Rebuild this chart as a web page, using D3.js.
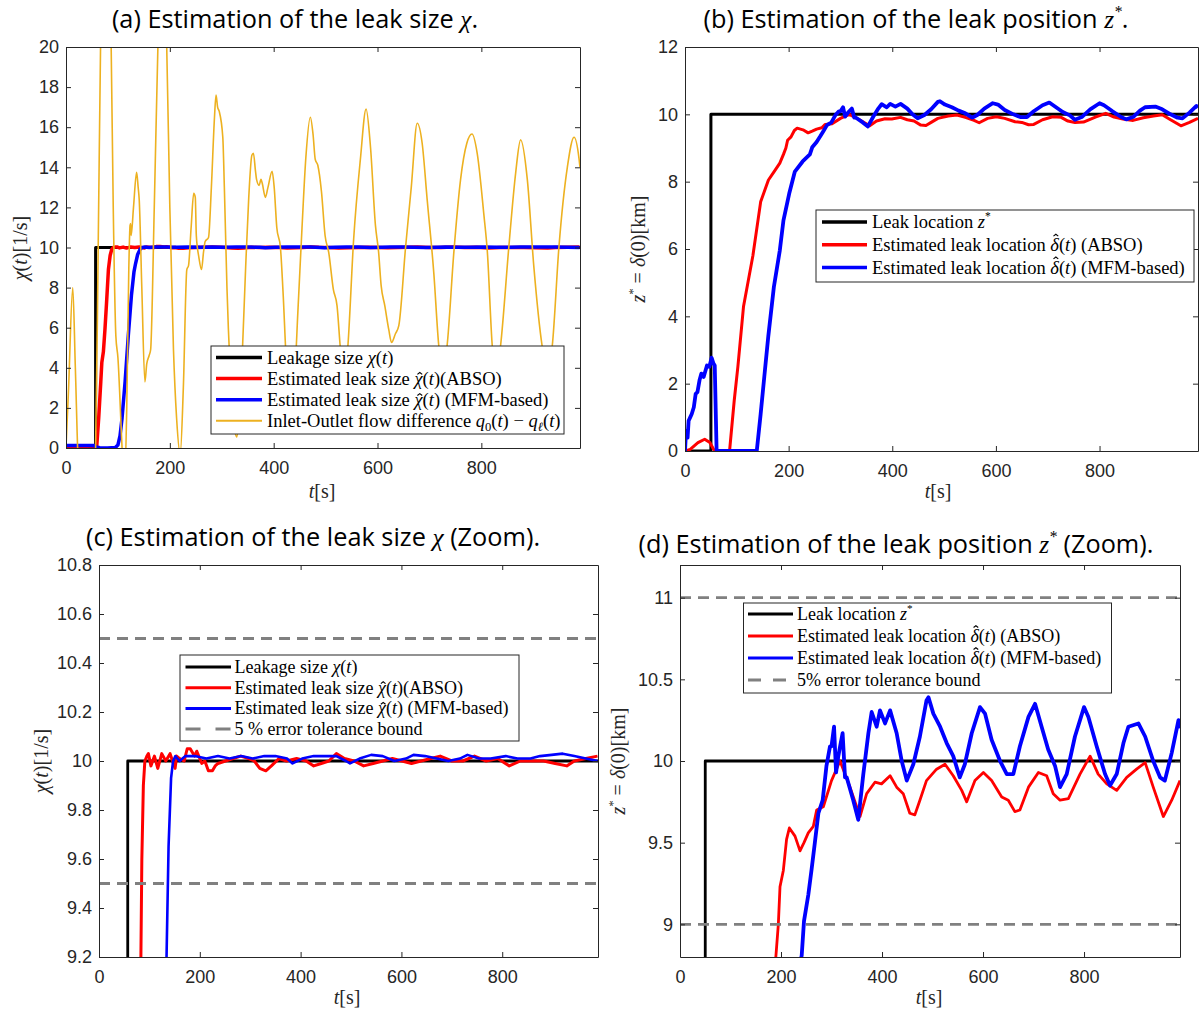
<!DOCTYPE html>
<html>
<head>
<meta charset="utf-8">
<script src="https://cdn.jsdelivr.net/npm/d3@7"></script>
<style>
  body { margin: 0; background: #fff; }
  svg { display: block; }
</style>
</head>
<body>
<svg id="fig" width="1200" height="1012"></svg>
<script>
// ---------- data ----------
// time axis ticks [s]
const timeTicks = [0, 200, 400, 600, 800];
const timeDomain = [0, 990];

// true leak size chi(t) [1/s]
const leakSize = [[0, 0], [57, 0], [57, 10], [990, 10]];
// true leak position z* [km]
const leakPos = [[0, 0], [50, 0], [50, 10], [990, 10]];

// estimated leak size, ABSO observer
const chiABSO = [[0,0],[20,-0.02],[40,-0.04],[57,-0.05],[59,0],[63,1.5],[67,3.3],[69,4.26],[72,4.8],[75,5.9],[78,7.2],
  [81.7,8.9],[85,9.6],[88,9.9],[91,10.0],[95,10.02],[98,10.03],[103,9.98],[110,10.02],[116.6,9.97],[124.5,10.03],
  [132.5,10.0],[141,10.03],[151,9.97],[154,10.02],[160,10.01],[169,10.0],[175,10.05],[181,10.05],[189.5,10.02],
  [194,10.04],[204,9.99],[210,10.0],[217,9.96],[225,9.96],[230.5,9.98],[236,9.99],[251,10.0],[266,10.01],[281,10.02],
  [297,10.01],[308,10.0],[319,9.97],[331,9.96],[342,9.98],[357,10.01],[372,10.0],[392,10.01],[411,10.0],[426,9.98],
  [441,9.99],[456,10.0],[471,10.03],[487,10.01],[506,10.0],[525,9.98],[544,9.99],[563,10.0],[582,10.01],[601,10.0],
  [620,9.99],[639,10.0],[658,10.01],[677,10.02],[700,10.0],[722,10.0],[745,10.02],[768,10.0],[791,10.01],[814,9.98],
  [836,10.0],[859,10.0],[882,10.0],[905,9.99],[928,9.98],[943,10.0],[966,10.01],[989,10.02]];

// estimated leak size, MFM-based
const chiMFM = [[0,0.12],[55,0.12],[58,0.05],[65,0.01],[80,0],[95,0.02],[100,0.15],[104,0.6],[108,1.5],[113.8,3.3],
  [120,5.6],[126,7.6],[131,8.8],[134,9.2],[138,9.65],[143,9.93],[147,10.0],[151.5,10.02],[160,10.0],[171,10.02],
  [190,10.02],[213,10.01],[236,10.02],[259,10.01],[282,10.02],[305,10.01],[328,10.02],[350,10.02],[373,10.01],
  [384,9.99],[403,10.01],[426,10.02],[449,10.02],[471,10.02],[490,10.0],[498,9.99],[517,10.01],[540,10.025],
  [563,10.02],[586,10.0],[609,10.01],[624,10.025],[647,10.02],[670,10.01],[693,10.0],[716,10.01],[731,10.025],
  [754,10.01],[777,10.01],[807,10.02],[830,10.01],[856,10.01],[875,10.02],[898,10.025],[920,10.03],[943,10.02],
  [966,10.01],[989,10.0]];

// inlet-outlet flow difference q0(t) - ql(t)
const flowDiff = [[0,0],[5,3],[13,8],[18,4],[24,-1],[35,-3],[50,-2],[57,0],[62,10],[67,21],[75,28],[82,26],[87,20],
  [91,12],[96,5.6],[100,4.5],[108,0],[112,-2],[117,2],[121,9],[123.4,11.1],[124.5,11.2],[125.5,10.6],[130,12],
  [136,13.75],[139,13],[141,12.4],[146,8],[152,3.3],[155.5,4.2],[160,4.6],[163,4.9],[170,12],[177,20],[183,25],
  [189,24],[194,20],[200,12],[207,4.9],[213,1.5],[220,-0.3],[226,3],[232.7,8.9],[236,9.1],[241,11],[246,12.7],
  [249,12.5],[251,10.6],[256,9.5],[261,8.9],[265,9.8],[268,10.3],[274.5,10.5],[280,13],[286,16.5],[289,17.6],
  [292,17.0],[295,16.8],[302,15.5],[305,13],[310,8],[316,4],[322,1.5],[329,0.55],[333,1.5],[340,5],[346,9],
  [352,12.5],[358,14.6],[361,14.7],[365,13.8],[367,13.4],[372,13.1],[375.6,13.4],[378,13.2],[384,12.5],[389,13],
  [397,13.8],[401,13],[406,11],[413,10],[418,7.8],[425,4],[432,2.5],[440,3.5],[447,7],[454.6,11],[462,14.5],
  [470.6,16.5],[476,15.6],[480,14.4],[485,14.1],[492,12.8],[499,10.6],[506,9.76],[515,7.9],[522,7.1],[528,5.1],
  [535,3.0],[543,5.1],[554,10.4],[567,14.4],[578,16.9],[586.5,15],[596,11.1],[602,9.8],[607,8.1],[614,7.1],
  [621.7,5.9],[627,5.26],[634.5,5.7],[641,6.1],[654,10],[665,13],[676.5,16.2],[686,15.2],[695.6,12.4],[708.5,8.7],
  [718,5.1],[726,3.8],[734,5.1],[747,9.76],[760,13.4],[772,15.2],[782,15.66],[792,14.7],[805,11.6],[811.5,9.8],
  [821,5.1],[829,3.6],[837,5.1],[853,10.05],[866,13.7],[875.6,15.37],[888.5,13.4],[901,9.07],[917,5.1],[927,3.8],
  [936.6,5.1],[949.5,10.05],[965.6,14.0],[978.5,15.5],[988,14.46],[990,14.0]];

// estimated leak position, ABSO observer
const zABSO = [[0,0],[10,0.05],[25,0.25],[38,0.35],[48,0.25],[55,0.05],[58,0],[86,0],[95,1.5],[102,2.5],[113,4.3],
  [131,5.8],[146,7.4],[161,8.05],[172,8.3],[183,8.55],[190,8.81],[194.7,9.0],[198,9.23],[204.6,9.33],[211,9.52],
  [216.5,9.59],[227.7,9.54],[237.6,9.45],[245.5,9.5],[254,9.56],[264,9.6],[270.6,9.7],[283.8,9.72],[300,9.88],
  [316.8,10.0],[326.7,9.92],[336.6,9.84],[356.4,9.66],[369.6,9.8],[386,9.87],[399,9.86],[416,9.91],[429,9.84],
  [442,9.8],[455,9.68],[465,9.67],[475,9.76],[488,9.88],[508,9.95],[524.8,9.98],[541,9.91],[557.8,9.82],[567.7,9.75],
  [584,9.88],[600.7,9.93],[617,9.88],[637,9.78],[650,9.76],[663,9.69],[673,9.7],[690,9.84],[709.6,9.93],[726,9.91],
  [739,9.8],[752.5,9.76],[769,9.77],[792,9.92],[812,10.03],[828,9.92],[845,9.86],[864.7,9.82],[884.5,9.9],
  [904,9.95],[921,9.99],[937,9.84],[957,9.66],[973.6,9.76],[990,9.88]];

// estimated leak position, MFM-based
const zMFM = [[0,0],[2,0.6],[5,0.4],[7,0.9],[10,1.0],[13,1.1],[17,1.3],[20.6,1.7],[24,1.75],[28,2.1],[31.6,2.3],
  [36,2.2],[42.4,2.54],[47,2.5],[51.4,2.77],[55,2.6],[57.4,2.54],[61,0],[138.5,0],[146,1.1],[153,2.2],[160.7,3.4],
  [171.5,4.87],[183,5.96],[190,6.85],[201,7.64],[212,8.3],[227,8.6],[241,8.81],[245.5,9.02],[254,9.18],[260.7,9.34],
  [267,9.5],[274,9.68],[282.5,9.76],[290,9.97],[297,10.09],[300,10.09],[305,10.21],[309,9.93],[313.5,10.03],
  [317,10.09],[322,10.17],[326.7,9.9],[330,9.9],[343,9.76],[353,9.64],[363,9.92],[373,10.17],[379.5,10.3],
  [389.4,10.21],[396,10.31],[406,10.23],[416,10.31],[429,10.17],[439,10.0],[449,9.88],[462,9.98],[475,10.15],
  [488,10.37],[492,10.39],[501.6,10.29],[515,10.21],[528,10.11],[541,10.03],[554,9.9],[564,9.98],[577.6,10.17],
  [594,10.33],[604,10.29],[617,10.13],[633.7,10.0],[647,9.92],[660,9.92],[673,10.09],[690,10.27],[703,10.35],
  [716,10.21],[729,10.07],[742.6,9.97],[752.5,9.84],[765.7,9.92],[782,10.15],[800,10.33],[808.6,10.27],[825,10.09],
  [841.6,9.92],[851.5,9.85],[864.7,9.92],[878,10.11],[887.8,10.21],[907.6,10.23],[921,10.15],[937,10.0],[950.5,9.9],
  [960,9.88],[973.6,10.05],[987,10.25],[990,10.2]];

// 5 % tolerance bounds
const tolChi = [9.5, 10.5];
const tolZ = [9, 11];

// y tick values
const ticksA = [0, 2, 4, 6, 8, 10, 12, 14, 16, 18, 20];
const ticksB = [0, 2, 4, 6, 8, 10, 12];
const ticksC = [9.2, 9.4, 9.6, 9.8, 10, 10.2, 10.4, 10.6, 10.8];
const ticksD = [9, 9.5, 10, 10.5, 11];

// text: parts are [string, style]; 'i' italic, 'm' serif italic math in sans text,
// '^' superscript, '_' subscript, 'h' hat accent (low glyph), 'H' hat accent (tall glyph)
const titleA = [["(a) Estimation of the leak size "], ["χ", "m"], ["."]];
const titleB = [["(b) Estimation of the leak position "], ["z", "m"], ["*", "m^"], ["."]];
const titleC = [["(c) Estimation of the leak size "], ["χ", "m"], [" (Zoom)."]];
const titleD = [["(d) Estimation of the leak position "], ["z", "m"], ["*", "m^"], [" (Zoom)."]];
const labelChi = [["χ", "i"], ["("], ["t", "i"], [")[1/s]"]];
const labelZ = [["z", "i"], ["*", "^"], [" = ", ""], ["δ", "i"], ["(0)[km]"]];
const labelT = [["t", "i"], ["[s]"]];

const lgLeak = [["Leakage size "], ["χ", "i"], ["("], ["t", "i"], [")"]];
const lgChiABSO = [["Estimated leak size "], ["χ", "ih"], ["("], ["t", "i"], [")(ABSO)"]];
const lgChiMFM = [["Estimated leak size "], ["χ", "ih"], ["("], ["t", "i"], [") (MFM-based)"]];
const lgFlow = [["Inlet-Outlet flow difference "], ["q", "i"], ["0", "_"], ["("], ["t", "i"], [") − "], ["q", "i"], ["ℓ", "_i"], ["("], ["t", "i"], [")"]];
const lgPos = [["Leak location "], ["z", "i"], ["*", "^"]];
const lgZABSO = [["Estimated leak location "], ["δ", "iH"], ["("], ["t", "i"], [") (ABSO)"]];
const lgZMFM = [["Estimated leak location "], ["δ", "iH"], ["("], ["t", "i"], [") (MFM-based)"]];
const lgTolC = [["5 % error tolerance bound"]];
const lgTolD = [["5% error tolerance bound"]];

// ---------- styling ----------
const SERIF = "'Liberation Serif', 'DejaVu Serif', serif";
const SANS = "'Liberation Sans', Arial, sans-serif";
const TITLE = "'Open Sans', Lato, sans-serif";
const AX = "#262626";
const C_BLACK = "#000000", C_RED = "#ff0000", C_BLUE = "#0000ff", C_YEL = "#EDB120", C_GRAY = "#808080";

const svg = d3.select("#fig");
const defs = svg.append("defs");

// writes mixed upright/italic/sub/superscript runs into a text element
function rich(textSel, parts, size) {
  let shift = 0, idx = 0;
  const hats = [];
  parts.forEach(p => {
    const s = p[0], st = p[1] || "";
    const ts = textSel.append("tspan").text(s);
    let target = 0;
    if (st.includes("m")) ts.attr("font-family", SERIF);
    if (st.includes("i") || st.includes("m")) ts.attr("font-style", "italic");
    if (st.includes("^")) { target = -0.42 * size; ts.attr("font-size", size * 0.62); }
    if (st.includes("_")) { target = 0.22 * size; ts.attr("font-size", size * 0.68); }
    if (target !== shift) { ts.attr("dy", target - shift); shift = target; }
    if (st.includes("h") || st.includes("H")) hats.push({ idx, tall: st.includes("H") });
    idx += s.length;
  });
  // circumflex accents drawn as small strokes centred over their base glyph
  const node = textSel.node();
  const baseY = +textSel.attr("y");
  hats.forEach(h => {
    const e = node.getExtentOfChar(h.idx);
    const cx = e.x + e.width / 2 + size * 0.07;
    const top = baseY - (h.tall ? 0.9 : 0.66) * size;
    const hw = 0.13 * size, hh = 0.1 * size;
    d3.select(node.parentNode).append("path")
      .attr("d", `M${cx - hw},${top + hh}L${cx},${top}L${cx + hw},${top + hh}`)
      .attr("fill", "none").attr("stroke", textSel.attr("fill")).attr("stroke-width", 0.06 * size)
      .attr("stroke-linejoin", "miter");
  });
  return textSel;
}

function panel(cfg) {
  const x = d3.scaleLinear().domain(timeDomain).range([cfg.x0, cfg.x1]);
  const y = d3.scaleLinear().domain(cfg.yDomain).range([cfg.y1, cfg.y0]);
  const clipId = "clip-" + cfg.key;
  defs.append("clipPath").attr("id", clipId).append("rect")
    .attr("x", cfg.x0).attr("y", cfg.y0).attr("width", cfg.x1 - cfg.x0).attr("height", cfg.y1 - cfg.y0);

  svg.append("rect").attr("x", cfg.x0).attr("y", cfg.y0)
    .attr("width", cfg.x1 - cfg.x0).attr("height", cfg.y1 - cfg.y0).attr("fill", "#fff");

  const plot = svg.append("g").attr("clip-path", `url(#${clipId})`);

  cfg.series.forEach(s => {
    if (s.hline !== undefined) {
      plot.append("line").attr("x1", cfg.x0).attr("x2", cfg.x1)
        .attr("y1", y(s.hline)).attr("y2", y(s.hline))
        .attr("stroke", s.color).attr("stroke-width", s.w).attr("stroke-dasharray", s.dash);
    } else {
      const line = d3.line().x(d => x(d[0])).y(d => y(d[1])).curve(s.smooth ? d3.curveMonotoneX : d3.curveLinear);
      plot.append("path").datum(s.data).attr("d", line)
        .attr("fill", "none").attr("stroke", s.color).attr("stroke-width", s.w)
        .attr("stroke-linejoin", "round");
    }
  });

  const axes = svg.append("g");
  axes.append("g").attr("transform", `translate(0,${cfg.y1})`)
    .call(d3.axisBottom(x).tickValues(timeTicks).tickSize(-5).tickSizeOuter(0).tickPadding(13).tickFormat(d3.format("d")));
  axes.append("g").attr("transform", `translate(0,${cfg.y0})`)
    .call(d3.axisTop(x).tickValues(timeTicks).tickSize(-5).tickSizeOuter(0).tickFormat(""));
  axes.append("g").attr("transform", `translate(${cfg.x0},0)`)
    .call(d3.axisLeft(y).tickValues(cfg.yTicks).tickSize(-5).tickSizeOuter(0).tickPadding(7).tickFormat(d => String(+d.toFixed(1))));
  axes.append("g").attr("transform", `translate(${cfg.x1},0)`)
    .call(d3.axisRight(y).tickValues(cfg.yTicks).tickSize(-5).tickSizeOuter(0).tickFormat(""));
  axes.selectAll(".domain").attr("stroke", AX).attr("stroke-width", 1);
  axes.selectAll(".tick line").attr("stroke", AX).attr("stroke-width", 1);
  axes.selectAll(".tick text").attr("font-family", SANS).attr("font-size", 18).attr("fill", AX);

  // title
  const tt = svg.append("text").attr("x", cfg.titleX).attr("y", cfg.titleY)
    .attr("text-anchor", "middle").attr("font-family", TITLE).attr("font-size", cfg.titleSize).attr("fill", "#000");
  rich(tt, cfg.title, cfg.titleSize);

  // axis labels
  const xl = svg.append("text").attr("x", cfg.xlX).attr("y", cfg.xlY)
    .attr("text-anchor", "middle").attr("font-family", SERIF).attr("font-size", 20).attr("fill", AX);
  rich(xl, labelT, 20);
  const yl = svg.append("text").attr("transform", `translate(${cfg.ylX},${cfg.ylY}) rotate(-90)`)
    .attr("text-anchor", "middle").attr("font-family", SERIF).attr("font-size", 20).attr("fill", AX);
  rich(yl, cfg.ylabel, 20);

  // legend
  const L = cfg.legend;
  const lg = svg.append("g");
  lg.append("rect").attr("x", L.x).attr("y", L.y).attr("width", L.w).attr("height", L.h)
    .attr("fill", "#fff").attr("stroke", AX).attr("stroke-width", 1);
  L.items.forEach((it, i) => {
    const cy = L.row0 + i * L.step;
    lg.append("line").attr("x1", L.lx0).attr("x2", L.lx1).attr("y1", cy).attr("y2", cy)
      .attr("stroke", it.color).attr("stroke-width", it.w).attr("stroke-dasharray", it.dash || null);
    const t = lg.append("text").attr("x", L.tx).attr("y", cy + 0.33 * L.fs)
      .attr("font-family", SERIF).attr("font-size", L.fs).attr("fill", "#000");
    rich(t, it.parts, L.fs);
  });
}

// (a) leak size, full range
panel({
  key: "a", x0: 66, x1: 580, y0: 47, y1: 448, yDomain: [0, 20], yTicks: ticksA,
  title: titleA, titleX: 295, titleY: 28, titleSize: 25.3,
  xlX: 322, xlY: 498, ylX: 27, ylY: 248, ylabel: labelChi,
  series: [
    { data: leakSize, color: C_BLACK, w: 3 },
    { data: chiABSO, color: C_RED, w: 3.5 },
    { data: chiMFM, color: C_BLUE, w: 3.5 },
    { data: flowDiff, color: C_YEL, w: 1.6, smooth: true }
  ],
  legend: {
    x: 211, y: 346, w: 353, h: 88, row0: 357.5, step: 21.1, lx0: 216, lx1: 262, tx: 267, fs: 18.5,
    items: [
      { parts: lgLeak, color: C_BLACK, w: 3.5 },
      { parts: lgChiABSO, color: C_RED, w: 3.5 },
      { parts: lgChiMFM, color: C_BLUE, w: 3.5 },
      { parts: lgFlow, color: C_YEL, w: 2 }
    ]
  }
});

// (b) leak position, full range
panel({
  key: "b", x0: 685, x1: 1198, y0: 47, y1: 451, yDomain: [0, 12], yTicks: ticksB,
  title: titleB, titleX: 916, titleY: 28, titleSize: 25.3,
  xlX: 938, xlY: 498, ylX: 645, ylY: 249, ylabel: labelZ,
  series: [
    { data: leakPos, color: C_BLACK, w: 3 },
    { data: zABSO, color: C_RED, w: 3 },
    { data: zMFM, color: C_BLUE, w: 3.8 }
  ],
  legend: {
    x: 816, y: 210, w: 378, h: 72, row0: 222, step: 22.8, lx0: 822, lx1: 867, tx: 872, fs: 18.5,
    items: [
      { parts: lgPos, color: C_BLACK, w: 3.5 },
      { parts: lgZABSO, color: C_RED, w: 3.5 },
      { parts: lgZMFM, color: C_BLUE, w: 3.5 }
    ]
  }
});

// (c) leak size, zoom around the true value
panel({
  key: "c", x0: 99, x1: 598, y0: 565, y1: 957, yDomain: [9.2, 10.8], yTicks: ticksC,
  title: titleC, titleX: 313, titleY: 546, titleSize: 25.3,
  xlX: 347, xlY: 1004, ylX: 48, ylY: 761, ylabel: labelChi,
  series: [
    { data: leakSize, color: C_BLACK, w: 2.8 },
    { data: chiABSO, color: C_RED, w: 3 },
    { data: chiMFM, color: C_BLUE, w: 2.6 },
    { hline: tolChi[1], color: C_GRAY, w: 2.8, dash: "11,7" },
    { hline: tolChi[0], color: C_GRAY, w: 2.8, dash: "11,7" }
  ],
  legend: {
    x: 180, y: 655, w: 339, h: 86, row0: 667, step: 20.7, lx0: 185.5, lx1: 231, tx: 234.5, fs: 18,
    items: [
      { parts: lgLeak, color: C_BLACK, w: 3 },
      { parts: lgChiABSO, color: C_RED, w: 3 },
      { parts: lgChiMFM, color: C_BLUE, w: 3 },
      { parts: lgTolC, color: C_GRAY, w: 3, dash: "15,15" }
    ]
  }
});

// (d) leak position, zoom around the true value
panel({
  key: "d", x0: 680, x1: 1180, y0: 565, y1: 957, yDomain: [8.8, 11.2], yTicks: ticksD,
  title: titleD, titleX: 896, titleY: 553, titleSize: 25.3,
  xlX: 929, xlY: 1004, ylX: 625, ylY: 761, ylabel: labelZ,
  series: [
    { data: leakPos, color: C_BLACK, w: 2.8 },
    { data: zABSO, color: C_RED, w: 2.8 },
    { data: zMFM, color: C_BLUE, w: 3.8 },
    { hline: tolZ[1], color: C_GRAY, w: 2.8, dash: "11,7" },
    { hline: tolZ[0], color: C_GRAY, w: 2.8, dash: "11,7" }
  ],
  legend: {
    x: 743.5, y: 603, w: 368, h: 90, row0: 614, step: 22, lx0: 748, lx1: 793, tx: 797, fs: 18,
    items: [
      { parts: lgPos, color: C_BLACK, w: 3 },
      { parts: lgZABSO, color: C_RED, w: 3 },
      { parts: lgZMFM, color: C_BLUE, w: 3 },
      { parts: lgTolD, color: C_GRAY, w: 3, dash: "13,12" }
    ]
  }
});
</script>
</body>
</html>
